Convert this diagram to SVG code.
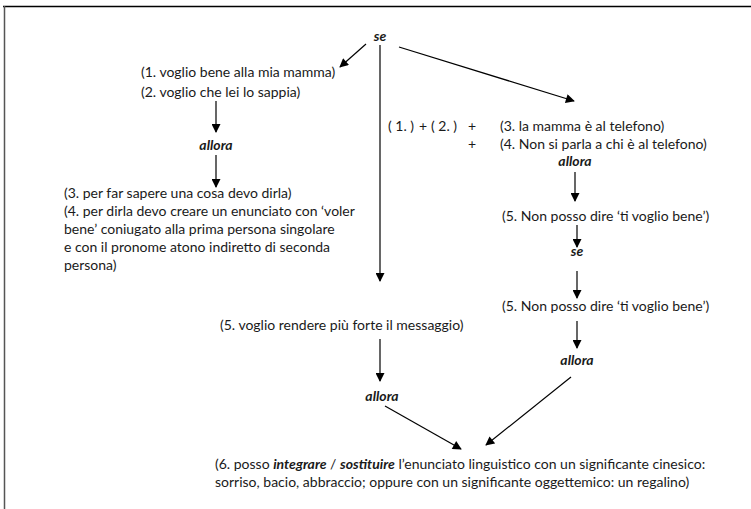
<svg xmlns="http://www.w3.org/2000/svg" width="751" height="509" viewBox="0 0 751 509">
<style>
text{font-family:Lato,"Source Sans Pro","Noto Sans",sans-serif;font-size:14px;fill:#1a1a1a}
.b{font-weight:bold;font-style:italic}
.m{text-anchor:middle}
.c{stroke:#000;stroke-width:1.2;fill:none;marker-end:url(#ah)}
</style>
<defs>
<marker id="ah" viewBox="0 0 10 10" refX="9" refY="5" markerWidth="10" markerHeight="9" markerUnits="userSpaceOnUse" orient="auto">
<path d="M0,0 L10,5 L0,10 z" fill="#000"/>
</marker>
</defs>
<rect width="751" height="509" fill="#fff"/>
<g id="frame">
<path d="M3,6.5 H751" stroke="#000" stroke-width="1.5"/>
<path d="M4.5,6 V509" stroke="#555" stroke-width="1.5"/>
</g>
<g id="connectors">
<path class="c" d="M366,44 L340,67"/>
<path class="c" d="M380,45 L380,281"/>
<path class="c" d="M399,47 L574,101"/>
<path class="c" d="M216,101 L216,132"/>
<path class="c" d="M216,155 L216,187"/>
<path class="c" d="M575,172 L575,201"/>
<path class="c" d="M577,225 L577,247"/>
<path class="c" d="M577,271 L577,298"/>
<path class="c" d="M577,321 L577,348"/>
<path class="c" d="M571,377 L486,445"/>
<path class="c" d="M380,339 L380,381"/>
<path class="c" d="M385,406 L461,449"/>
</g>
<g id="n-se1"><text class="b m" x="380" y="41">se</text></g>
<g id="n-1-2">
<text x="141" y="77">(1. voglio bene alla mia mamma)</text>
<text x="141" y="97">(2. voglio che lei lo sappia)</text>
</g>
<g id="n-allora1"><text class="b m" x="216" y="150">allora</text></g>
<g id="n-3-4">
<text x="64" y="198">(3. per far sapere una cosa devo dirla)</text>
<text x="64" y="216">(4. per dirla devo creare un enunciato con ‘voler</text>
<text x="64" y="234">bene’ coniugato alla prima persona singolare</text>
<text x="64" y="252">e con il pronome atono indiretto di seconda</text>
<text x="64" y="270">persona)</text>
</g>
<g id="n-sum">
<text y="131"><tspan x="388">( 1. )</tspan><tspan x="419">+</tspan><tspan x="431">( 2. )</tspan></text>
<text x="468" y="131">+</text>
<text x="500" y="131">(3. la mamma è al telefono)</text>
<text x="468" y="149">+</text>
<text x="500" y="149">(4. Non si parla a chi è al telefono)</text>
</g>
<g id="n-allora2"><text class="b m" x="575" y="166">allora</text></g>
<g id="n-5a"><text x="502" y="221">(5. Non posso dire ‘ti voglio bene’)</text></g>
<g id="n-se2"><text class="b m" x="577" y="256">se</text></g>
<g id="n-5b"><text x="502" y="311">(5. Non posso dire ‘ti voglio bene’)</text></g>
<g id="n-allora3"><text class="b m" x="577" y="365">allora</text></g>
<g id="n-5c"><text x="220" y="330">(5. voglio rendere più forte il messaggio)</text></g>
<g id="n-allora4"><text class="b m" x="382" y="401">allora</text></g>
<g id="n-6">
<text x="215" y="469">(6. posso <tspan class="b">integrare</tspan> / <tspan class="b">sostituire</tspan> l’enunciato linguistico con un significante cinesico:</text>
<text x="215" y="487">sorriso, bacio, abbraccio; oppure con un significante oggettemico: un regalino)</text>
</g>
</svg>
